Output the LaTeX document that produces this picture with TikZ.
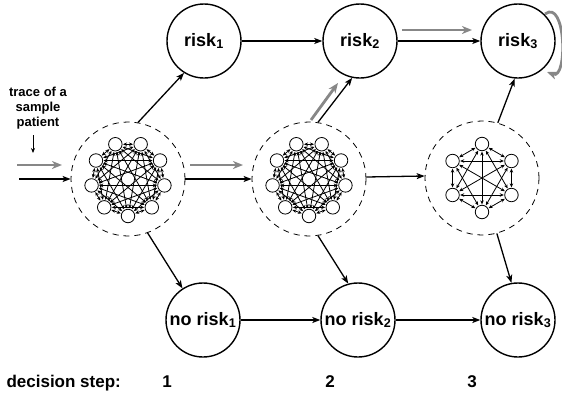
\documentclass[tikz,border=0pt]{standalone}
\usepackage{fontspec}
\setmainfont{Liberation Sans}
\usetikzlibrary{arrows.meta,calc}
\begin{document}
\begin{tikzpicture}[x=1pt,y=-1pt,
  big/.style={circle,draw,line width=1.4pt,minimum size=74pt,inner sep=0pt,font=\fontsize{18}{20}\selectfont\bfseries},
  cluster/.style={circle,draw,dash pattern=on 6pt off 5pt,line width=0.8pt,minimum size=114pt,inner sep=0pt},
  small/.style={circle,draw,line width=0.8pt,minimum size=13.5pt,inner sep=0pt,fill=white},
  arr/.style={line width=1.3pt,-{Stealth[length=8pt,width=6pt,inset=2pt]}},
  garr/.style={line width=2.8pt,draw=black!47,-{Stealth[length=10pt,width=8pt,inset=3pt,fill=black!47]}},
  innerarr/.style={line width=0.8pt,{Stealth[length=4pt,width=3.5pt]}-{Stealth[length=4pt,width=3.5pt]},shorten <=0.5pt,shorten >=0.5pt},
  sarr/.style={line width=0.8pt,-{Stealth[length=5pt,width=4pt]}},
  lbl/.style={font=\fontsize{17}{20}\selectfont\bfseries}
]
\useasboundingbox (0,0) rectangle (562,394);

% main states
\node[big] (r1) at (204,41) {risk\textsubscript{1}};
\node[big] (r2) at (360,41) {risk\textsubscript{2}};
\node[big] (r3) at (518,41) {risk\textsubscript{3}};
\node[big] (n1) at (203,320) {no risk\textsubscript{1}};
\node[big] (n2) at (358,320) {no risk\textsubscript{2}};
\node[big] (n3) at (518,320) {no risk\textsubscript{3}};

% clusters
\node[cluster] (c1) at (128,179) {};
\node[cluster] (c2) at (309,179) {};
\node[cluster] (c3) at (482,178) {};

\foreach \i in {0,...,8}{
  \node[small] (a\i) at ($(c1)+(-90+40*\i:37pt)$) {};
  \node[small] (b\i) at ($(c2)+(-90+40*\i:37pt)$) {};
}
\foreach \i in {0,...,5}{
  \node[small] (d\i) at ($(c3)+(90-60*\i:34pt)$) {};
}
\foreach \i in {0,...,7}{
  \pgfmathtruncatemacro\nxt{\i+1}
  \foreach \j in {\nxt,...,8}{
    \draw[innerarr] (a\i) -- (a\j);
    \draw[innerarr] (b\i) -- (b\j);
  }
}
\foreach \i in {0,...,4}{
  \pgfmathtruncatemacro\nxt{\i+1}
  \foreach \j in {\nxt,...,5}{
    \draw[innerarr] (d\i) -- (d\j);
  }
}

% black transitions
\draw[arr] (c1.80) -- (r1.238);
\draw[arr] (c1.-70) -- (n1.123);
\draw[arr] (c2.81) -- (r2.258);
\draw[arr] (c2.-81) -- (n2.105);
\draw[arr] (c3.74) -- (r3.265);
\draw[arr] (c3.-75) -- (n3.100);
\draw[arr] (r1) -- (r2);
\draw[arr] (r2) -- (r3);
\draw[arr] (n1) -- (n2);
\draw[arr] (n2) -- (n3);
\draw[arr] (c1) -- (c2);
\draw[arr] (c2.2) -- (c3.178);
\coordinate (in) at (19,179);
\draw[arr] (in) -- (c1);

% trace of a sample patient
\node[font=\fontsize{13}{15}\selectfont\bfseries,align=center] (trace) at (38,108) {trace of a\\sample\\patient};
\coordinate (ta) at (33,135);
\coordinate (tb) at (33,153);
\draw[sarr] (ta) -- (tb);

\coordinate (g0) at (17,165);
\coordinate (g1) at (62,165);
\draw[garr] (g0) -- (g1);
\coordinate (g2) at (190,165);
\coordinate (g3) at (243,165);
\draw[garr] (g2) -- (g3);
\coordinate (g4) at (311,120);
\coordinate (g5) at (338,83);
\draw[garr] (g4) -- (g5);
\coordinate (g6) at (402,30);
\coordinate (g7) at (472,30);
\draw[garr] (g6) -- (g7);
\coordinate (g8) at (545,14);
\coordinate (g9) at (547,72);
\draw[garr] (g8) .. controls (566,-2) and (568,80) .. (g9);

% decision steps
\node[lbl,anchor=base west] (ds) at (3,387) {decision step:};
\node[lbl,anchor=base] (s1) at (167,387) {1};
\node[lbl,anchor=base] (s2) at (330,387) {2};
\node[lbl,anchor=base] (s3) at (472,387) {3};
\end{tikzpicture}
\end{document}
